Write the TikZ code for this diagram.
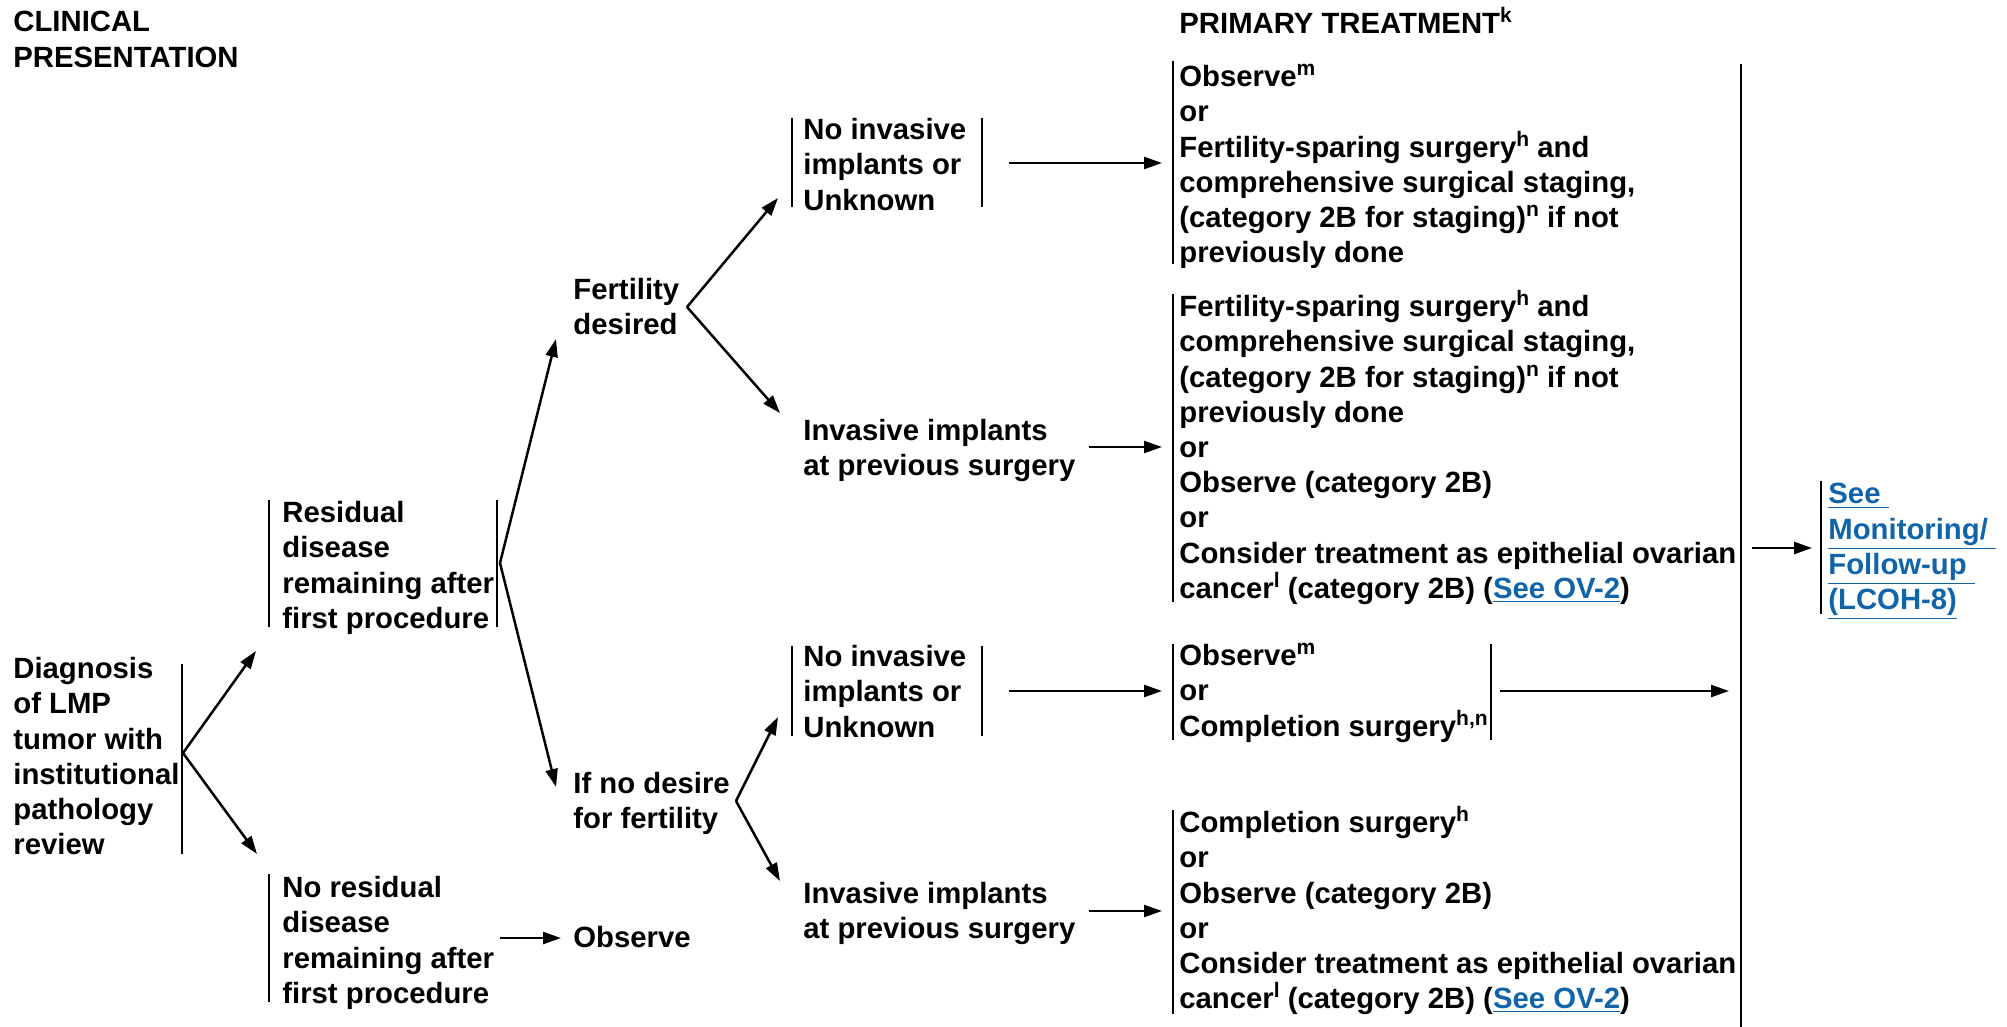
\documentclass[tikz,border=0pt]{standalone}
\usepackage{fontspec}
\setmainfont{Liberation Sans}
\usetikzlibrary{arrows.meta,calc}
\definecolor{linkblue}{RGB}{16,100,170}
\newcommand{\lnk}[1]{\textcolor{linkblue}{\underline{#1}}}
\newcommand{\sups}[1]{\raisebox{5.5pt}{\fontsize{10.5}{10}\selectfont #1}}
\begin{document}
\begin{tikzpicture}[x=0.5pt,y=-0.5pt,
  txt/.style={anchor=north west, inner sep=0pt, align=left,
    font=\fontsize{14.65}{17.6}\selectfont\bfseries,
    execute at begin node={\rule{0pt}{14pt}}},
  bar/.style={line width=1pt},
  arr/.style={line width=1.25pt, -{Triangle[length=9pt,width=6pt]}}
]
\useasboundingbox (0,0) rectangle (2007,1027);
\fill[white] (0,0) rectangle (2007,1027);

% headers
\node[txt] (hdrA) at (13,11) {CLINICAL\\PRESENTATION};
\node[txt] (hdrB) at (1179,5) {PRIMARY TREATMENT\sups{k}};

% left column
\node[txt] (dg) at (13,657) {Diagnosis\\of LMP\\tumor with\\institutional\\pathology\\review};
\node[txt] (res) at (282,501) {Residual\\disease\\remaining after\\first procedure};
\node[txt] (nres) at (282,876) {No residual\\disease\\remaining after\\first procedure};
\node[txt] (obs) at (573,919) {Observe};
\node[txt] (fert) at (573,278) {Fertility\\desired};
\node[txt] (nodes) at (573,772) {If no desire\\for fertility};
\node[txt] (niA) at (803,118) {No invasive\\implants or\\Unknown};
\node[txt] (invA) at (803,419) {Invasive implants\\at previous surgery};
\node[txt] (niB) at (803,645) {No invasive\\implants or\\Unknown};
\node[txt] (invB) at (803,882) {Invasive implants\\at previous surgery};

% treatment column
\node[txt] (tA) at (1179,64) {Observe\sups{m}\\or\\Fertility-sparing surgery\sups{h} and\\comprehensive surgical staging,\\(category 2B for staging)\sups{n} if not\\previously done};
\node[txt] (tB) at (1179,290) {Fertility-sparing surgery\sups{h} and\\comprehensive surgical staging,\\(category 2B for staging)\sups{n} if not\\previously done\\or\\Observe (category 2B)\\or\\Consider treatment as epithelial ovarian\\cancer\sups{l} (category 2B) (\lnk{See OV-2})};
\node[txt] (tC) at (1179,643) {Observe\sups{m}\\or\\Completion surgery\sups{h,n}};
\node[txt] (tD) at (1179,806) {Completion surgery\sups{h}\\or\\Observe (category 2B)\\or\\Consider treatment as epithelial ovarian\\cancer\sups{l} (category 2B) (\lnk{See OV-2})};
\node[txt] (mon) at (1828,483) {\lnk{See\ }\\\lnk{Monitoring/\ }\\\lnk{Follow-up\ }\\\lnk{(LCOH-8)}};

% bars
\draw[bar] (182,664) -- (182,854);
\draw[bar] (269,500) -- (269,627);
\draw[bar] (497,500) -- (497,627);
\draw[bar] (269,874) -- (269,1002);
\draw[bar] (792,118) -- (792,207);
\draw[bar] (982,118) -- (982,207);
\draw[bar] (792,646) -- (792,736);
\draw[bar] (982,646) -- (982,736);
\draw[bar] (1173,61) -- (1173,264);
\draw[bar] (1173,294) -- (1173,602);
\draw[bar] (1173,644) -- (1173,740);
\draw[bar] (1491,644) -- (1491,740);
\draw[bar] (1173,810) -- (1173,1014);
\draw[bar] (1821,481) -- (1821,614);
\draw[line width=1.2pt] (1741,64) -- (1741,1027);

% connector end points
\coordinate (dg-o) at (183,753);
\coordinate (res-i) at (256,651);
\coordinate (nres-i) at (257,854);
\coordinate (res-o) at (500,563);
\coordinate (fert-i) at (556,339);
\coordinate (nodes-i) at (556,787);
\coordinate (nres-o) at (500,938);
\coordinate (obs-i) at (561,938);
\coordinate (fert-o) at (687,307);
\coordinate (niA-i) at (778,198);
\coordinate (invA-i) at (780,413);
\coordinate (nodes-o) at (736,801);
\coordinate (niB-i) at (778,717);
\coordinate (invB-i) at (780,881);
\coordinate (niA-o) at (1009,163);
\coordinate (tA-i) at (1162,163);
\coordinate (invA-o) at (1089,447);
\coordinate (tB-i) at (1162,447);
\coordinate (niB-o) at (1009,691);
\coordinate (tC-i) at (1162,691);
\coordinate (invB-o) at (1089,911);
\coordinate (tD-i) at (1162,911);
\coordinate (tC-o) at (1500,691);
\coordinate (big-i) at (1729,691);
\coordinate (big-o) at (1752,548);
\coordinate (mon-i) at (1812,548);

% connectors
\draw[arr] (dg-o) -- (res-i);
\draw[arr] (dg-o) -- (nres-i);
\draw[arr] (res-o) -- (fert-i);
\draw[arr] (res-o) -- (nodes-i);
\draw[arr] (nres-o) -- (obs-i);
\draw[arr] (fert-o) -- (niA-i);
\draw[arr] (fert-o) -- (invA-i);
\draw[arr] (nodes-o) -- (niB-i);
\draw[arr] (nodes-o) -- (invB-i);
\draw[arr] (niA-o) -- (tA-i);
\draw[arr] (invA-o) -- (tB-i);
\draw[arr] (niB-o) -- (tC-i);
\draw[arr] (invB-o) -- (tD-i);
\draw[arr] (tC-o) -- (big-i);
\draw[arr] (big-o) -- (mon-i);
\end{tikzpicture}
\end{document}
